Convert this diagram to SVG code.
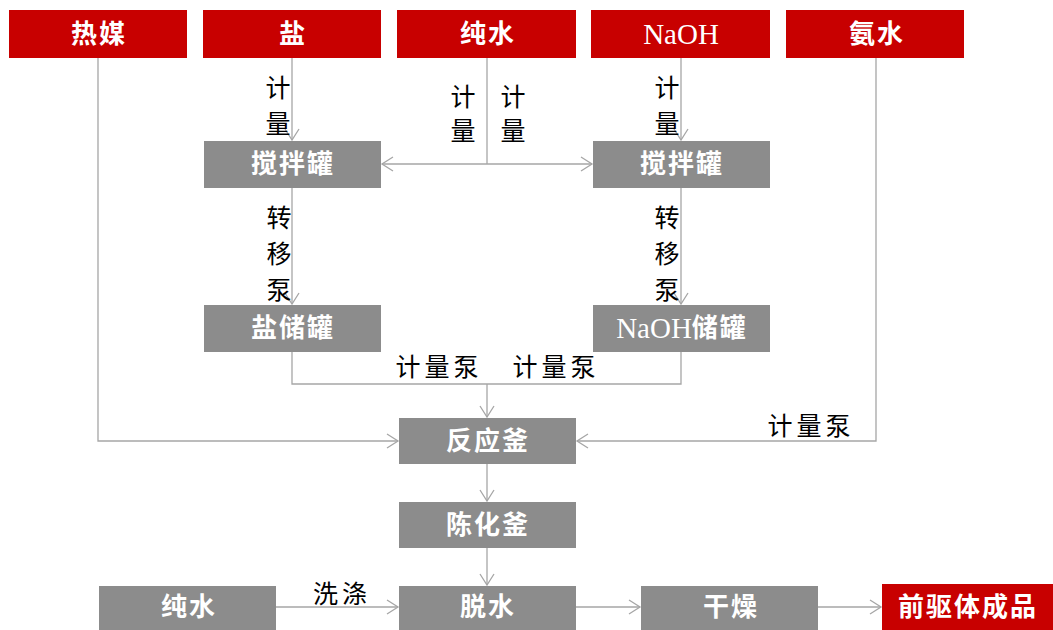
<svg xmlns="http://www.w3.org/2000/svg" width="1053" height="630" viewBox="0 0 1053 630">
<defs>
<style>
.red{fill:#C80000}
.gray{fill:#8C8C8C}
.nt{font-family:"Liberation Serif","Noto Sans CJK SC",serif;font-size:26px;font-weight:bold;fill:#fff;text-anchor:middle;dominant-baseline:central;letter-spacing:2px}
.en{font-weight:normal;letter-spacing:0;font-size:29px}
.lb{font-family:"Liberation Serif","Noto Sans CJK SC",serif;font-size:25px;fill:#000;text-anchor:middle;dominant-baseline:central;letter-spacing:4px}
.ln{fill:none;stroke:#A6A6A6;stroke-width:1.3}
</style>
<marker id="ar" markerUnits="userSpaceOnUse" markerWidth="14" markerHeight="16" refX="12" refY="8" orient="auto">
<path d="M1,1 L12,8 L1,15" fill="none" stroke="#A6A6A6" stroke-width="1.3"/>
</marker>
</defs>
<g id="connectors">
<path class="ln" d="M292,58 V140" marker-end="url(#ar)"/>
<path class="ln" d="M681,58 V140" marker-end="url(#ar)"/>
<path class="ln" d="M487,58 V164"/>
<path class="ln" d="M487,164 H382" marker-end="url(#ar)"/>
<path class="ln" d="M487,164 H592" marker-end="url(#ar)"/>
<path class="ln" d="M292,188 V304" marker-end="url(#ar)"/>
<path class="ln" d="M681,188 V304" marker-end="url(#ar)"/>
<path class="ln" d="M292,352 V384 H681 V352"/>
<path class="ln" d="M487,384 V417" marker-end="url(#ar)"/>
<path class="ln" d="M98,58 V441 H398" marker-end="url(#ar)"/>
<path class="ln" d="M876,58 V441 H577" marker-end="url(#ar)"/>
<path class="ln" d="M487,464 V501" marker-end="url(#ar)"/>
<path class="ln" d="M487,548 V585" marker-end="url(#ar)"/>
<path class="ln" d="M276,607 H398" marker-end="url(#ar)"/>
<path class="ln" d="M576,607 H640" marker-end="url(#ar)"/>
<path class="ln" d="M818,607 H881" marker-end="url(#ar)"/>
<text class="lb" x="280" y="88">计</text>
<text class="lb" x="280" y="124">量</text>
<text class="lb" x="465" y="97">计</text>
<text class="lb" x="465" y="131">量</text>
<text class="lb" x="515" y="97">计</text>
<text class="lb" x="515" y="131">量</text>
<text class="lb" x="669" y="88">计</text>
<text class="lb" x="669" y="124">量</text>
<text class="lb" x="281" y="218">转</text>
<text class="lb" x="281" y="254">移</text>
<text class="lb" x="281" y="290">泵</text>
<text class="lb" x="669" y="218">转</text>
<text class="lb" x="669" y="254">移</text>
<text class="lb" x="669" y="290">泵</text>
<text class="lb" x="439" y="367">计量泵</text>
<text class="lb" x="556" y="367">计量泵</text>
<text class="lb" x="811" y="426">计量泵</text>
<text class="lb" x="342" y="594">洗涤</text>
</g>
<g id="n-remei"><rect class="red" x="9" y="10" width="178" height="48"/><text class="nt" x="99" y="34">热媒</text></g>
<g id="n-yan"><rect class="red" x="203" y="10" width="178" height="48"/><text class="nt" x="293" y="34">盐</text></g>
<g id="n-chunshui"><rect class="red" x="397" y="10" width="179" height="48"/><text class="nt" x="488" y="34">纯水</text></g>
<g id="n-naoh"><rect class="red" x="591" y="10" width="179" height="48"/><text class="nt en" x="681" y="34">NaOH</text></g>
<g id="n-anshui"><rect class="red" x="786" y="10" width="178" height="48"/><text class="nt" x="877" y="34">氨水</text></g>
<g id="n-jiaoban1"><rect class="gray" x="204" y="141" width="177" height="47"/><text class="nt" x="293" y="164">搅拌罐</text></g>
<g id="n-jiaoban2"><rect class="gray" x="593" y="141" width="177" height="47"/><text class="nt" x="682" y="164">搅拌罐</text></g>
<g id="n-yanchu"><rect class="gray" x="204" y="305" width="177" height="47"/><text class="nt" x="293" y="328">盐储罐</text></g>
<g id="n-naohchu"><rect class="gray" x="593" y="305" width="177" height="47"/><text class="nt" x="682" y="328"><tspan class="en">NaOH</tspan>储罐</text></g>
<g id="n-fanying"><rect class="gray" x="399" y="418" width="177" height="46"/><text class="nt" x="488" y="441">反应釜</text></g>
<g id="n-chenhua"><rect class="gray" x="399" y="502" width="177" height="46"/><text class="nt" x="488" y="525">陈化釜</text></g>
<g id="n-chunshui2"><rect class="gray" x="99" y="586" width="177" height="44"/><text class="nt" x="189" y="607">纯水</text></g>
<g id="n-tuoshui"><rect class="gray" x="399" y="586" width="177" height="44"/><text class="nt" x="488" y="607">脱水</text></g>
<g id="n-ganzao"><rect class="gray" x="641" y="586" width="177" height="44"/><text class="nt" x="731" y="607">干燥</text></g>
<g id="n-chengpin"><rect class="red" x="882" y="584" width="171" height="46"/><text class="nt" x="968" y="607">前驱体成品</text></g>
</svg>
